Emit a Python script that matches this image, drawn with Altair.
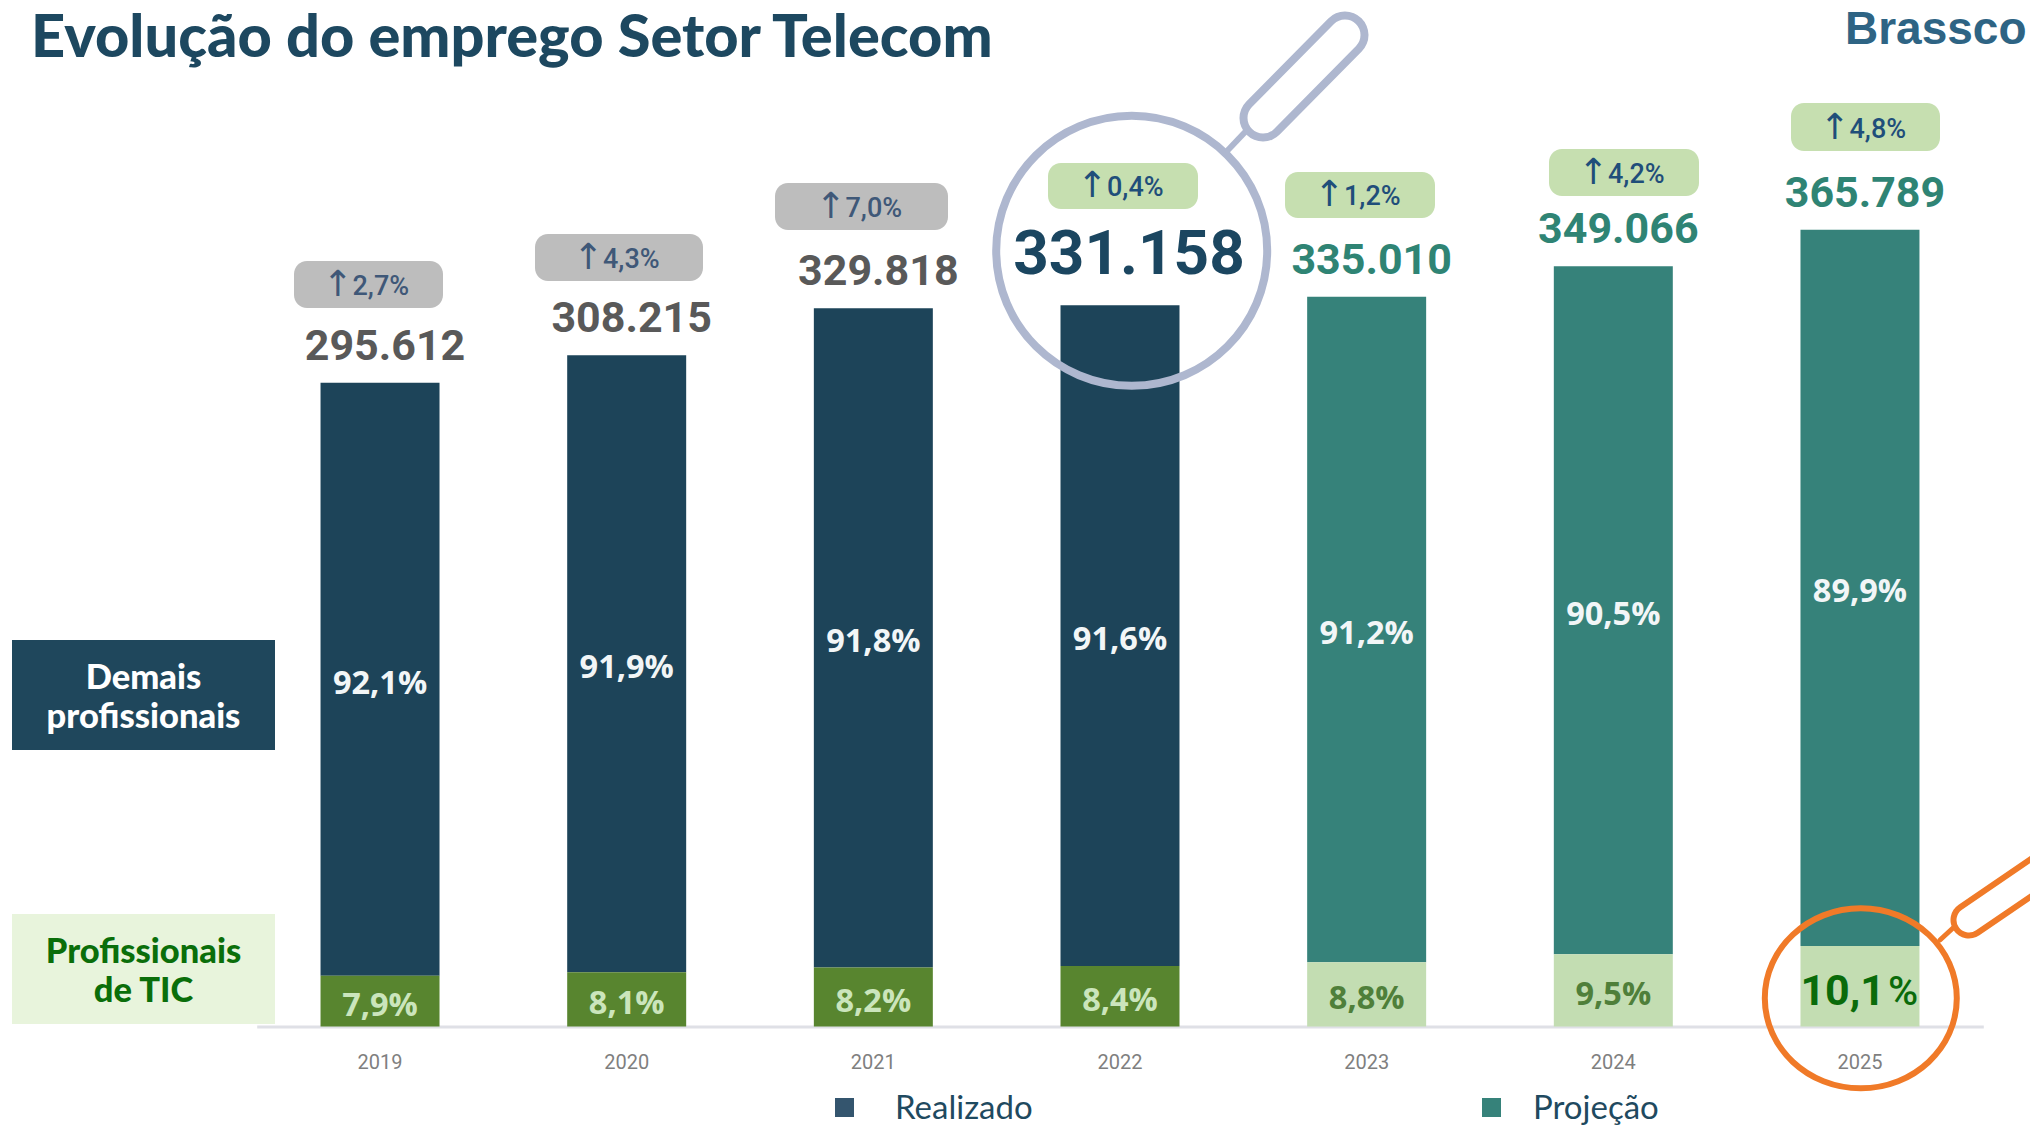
import altair as alt
import pandas as pd

# ---------- data ----------
years = ["2019", "2020", "2021", "2022", "2023", "2024", "2025"]
totals = [295612, 308215, 329818, 331158, 335010, 349066, 365789]
growth = [2.7, 4.3, 7.0, 0.4, 1.2, 4.2, 4.8]
share_tic = [7.9, 8.1, 8.2, 8.4, 8.8, 9.5, 10.1]
share_other = [92.1, 91.9, 91.8, 91.6, 91.2, 90.5, 89.9]
status = ["Realizado"] * 4 + ["Projeção"] * 3

# ---------- layout (page pixels, not data) ----------
W, H = 2022, 1117
ZERO_Y = 1018.5
PX_PER_UNIT = 0.002178
NAVY, TEAL, GREEN, PALE = "#1d4459", "#36827a", "#58852f", "#c3ddb2"
BADGE_BOXES = [
    (294, 443, 261, 308), (535, 703, 234, 281), (775, 948, 183, 230),
    (1048, 1198, 163, 209), (1285, 1435, 172, 218), (1549, 1699, 149, 196),
    (1791, 1940, 103, 151),
]


def fmt(v):
    return f"{v:.1f}".replace(".", ",")


rows = []
for i, y in enumerate(years):
    t = totals[i]
    tic = t * share_tic[i] / 100
    rows.append(dict(year=y, part="Outros " + status[i], y0=tic, y1=t, mid=(tic + t) / 2,
                     label=fmt(share_other[i]) + "%"))
    rows.append(dict(year=y, part="TIC " + status[i], y0=0, y1=tic, mid=tic / 2,
                     label=fmt(share_tic[i]) + "%"))
bars = pd.DataFrame(rows)
tops = pd.DataFrame(dict(year=years, total=totals, status=status,
                         label=[f"{t:,}".replace(",", ".") for t in totals]))

x_scale = alt.Scale(domain=years, range=[248.7, 1975.3], paddingInner=0.5176, paddingOuter=0.2588)
y_scale = alt.Scale(domain=[-(H - ZERO_Y) / PX_PER_UNIT, ZERO_Y / PX_PER_UNIT], nice=False, zero=False)
X = alt.X("year:N", scale=x_scale, sort=years, title=None,
          axis=alt.Axis(labelAngle=0, ticks=False, grid=False, offset=-(H - ZERO_Y),
                        domainColor="#dfe0e6", domainWidth=3, labelColor="#7f7f7f",
                        labelFont="Roboto", labelFontSize=20, labelPadding=26))


def Y(f):
    return alt.Y(f, scale=y_scale, axis=None, title=None)


one = alt.Data(values=[{"k": 0}])


def txt(s, x, y, size, color, weight="normal", font="Lato", align="center"):
    return alt.Chart(one).mark_text(
        text=s, font=font, fontSize=size, fontWeight=weight, color=color,
        align=align, baseline="alphabetic",
    ).encode(x=alt.value(x - 8), y=alt.value(y - 8))


def box(x0, x1, y0, y1, fill, radius=0):
    return alt.Chart(one).mark_rect(fill=fill, cornerRadius=radius).encode(
        x=alt.value(x0 - 8), x2=alt.value(x1 - 8), y=alt.value(y0 - 8), y2=alt.value(y1 - 8))


def seg(x0, y0, x1, y1, width, color):
    return alt.Chart(one).mark_rule(stroke=color, strokeWidth=width, strokeCap="round").encode(
        x=alt.value(x0 - 8), x2=alt.value(x1 - 8), y=alt.value(y0 - 8), y2=alt.value(y1 - 8))


def ring(cx, cy, rx, ry, width, color):
    path = f"M -1,0 A 1,{ry / rx:.4f} 0 1 1 1,0 A 1,{ry / rx:.4f} 0 1 1 -1,0 Z"
    return alt.Chart(one).mark_point(
        shape=path, size=(2 * rx) ** 2, stroke=color, strokeWidth=width, filled=False, opacity=1
    ).encode(x=alt.value(cx - 8), y=alt.value(cy - 8))


bar_layer = alt.Chart(bars).mark_bar().encode(
    x=X, y=Y("y0:Q"), y2="y1:Q",
    color=alt.Color("part:N", legend=None, scale=alt.Scale(
        domain=["Outros Realizado", "TIC Realizado", "Outros Projeção", "TIC Projeção"],
        range=[NAVY, GREEN, TEAL, PALE])),
)

share_text = alt.Chart(bars).transform_filter(
    "datum.year != '2025' || indexof(datum.part, 'TIC') < 0"
).mark_text(font="Open Sans", fontWeight="bold", fontSize=32.5, baseline="middle", dy=4.5).encode(
    x=alt.X("year:N", scale=x_scale, sort=years),
    y=Y("mid:Q"),
    text="label:N",
    color=alt.Color("part:N", legend=None, scale=alt.Scale(
        domain=["Outros Realizado", "TIC Realizado", "Outros Projeção", "TIC Projeção"],
        range=["#f2f6f7", "#cbe5bc", "#f2f6f7", "#4f7f3a"])),
)

total_text = alt.Chart(tops).transform_filter("datum.year != '2022'").mark_text(
    font="Roboto", fontWeight="bold", fontSize=43, baseline="alphabetic", dx=5, dy=-23
).encode(
    x=alt.X("year:N", scale=x_scale, sort=years),
    y=Y("total:Q"),
    text="label:N",
    color=alt.Color("status:N", legend=None, scale=alt.Scale(
        domain=["Realizado", "Projeção"], range=["#595959", "#2f8474"])),
)
total_2022 = alt.Chart(tops).transform_filter("datum.year == '2022'").mark_text(
    font="Roboto", fontWeight="bold", fontSize=62, baseline="alphabetic", dx=9, dy=-31, color="#1b4660"
).encode(x=alt.X("year:N", scale=x_scale, sort=years), y=Y("total:Q"), text="label:N")

layers = [bar_layer]
# magnifiers
layers += [
    ring(1131.7, 250.8, 135.5, 135, 8, "#aeb7cf"),
    seg(1247, 130, 1228, 150, 6, "#aeb7cf"),
    seg(1263, 118, 1345, 35, 47, "#aeb7cf"),
    seg(1263, 118, 1345, 35, 31, "#ffffff"),
    ring(1860.8, 998.3, 96, 90, 6, "#f07a28"),
    seg(1953, 928, 1940, 940, 5, "#f07a28"),
    seg(1969, 920, 2060, 858, 37, "#f07a28"),
    seg(1969, 920, 2060, 858, 25, "#ffffff"),
]
# growth badges
for i, b in enumerate(BADGE_BOXES):
    proj = i >= 3
    cx = (b[0] + b[1]) / 2
    col = "#1f4e7a" if proj else "#3f5878"
    layers.append(box(*b, "#c6dfb0" if proj else "#bdbdbd", 13))
    layers.append(txt("↑", cx - 31, b[3] - 12, 36, col, "normal", "DejaVu Sans"))
    layers.append(txt(fmt(growth[i]) + "%", cx - 16, b[3] - 13, 27, col, 500, "Roboto", "left"))
layers += [share_text, total_text, total_2022]
# highlighted 2025 share
layers += [
    txt(fmt(share_tic[6]), 1885, 1005, 43, "#0a6b0a", "bold", "Roboto", "right"),
    txt("%", 1888, 1005, 41, "#0a6b0a", 500, "Roboto", "left"),
]
# side labels
layers += [
    box(12, 275, 640, 750, "#1f475c"),
    txt("Demais", 143.5, 689, 34.5, "#ffffff", 900),
    txt("profissionais", 143.5, 728, 34.5, "#ffffff", 900),
    box(12, 275, 914, 1024, "#e8f4dc"),
    txt("Profissionais", 143.5, 963, 34.5, "#0a6e0a", 900),
    txt("de TIC", 143.5, 1002, 34.5, "#0a6e0a", 900),
]
# title, logo, legend
layers += [
    txt("Evolução do emprego Setor Telecom", 31, 57, 59.5, "#1d4860", 900, "Lato", "left"),
    txt("Brassco", 1845, 44, 46, "#2e6484", "bold", "Liberation Sans", "left"),
    box(835, 854, 1098, 1117, "#34556e"),
    txt("Realizado", 895, 1119, 33, "#1f4a60", "normal", "Lato", "left"),
    box(1482, 1501, 1098, 1117, "#36827a"),
    txt("Projeção", 1533, 1119, 33, "#1f4a60", "normal", "Lato", "left"),
]

chart = alt.layer(*layers).resolve_scale(color="independent").properties(
    width=W, height=H, padding=0, background="#ffffff",
    autosize=alt.AutoSizeParams(type="none"),
).configure_view(stroke=None)

chart.save("out.html", embed_options={"renderer": "svg", "actions": False})
